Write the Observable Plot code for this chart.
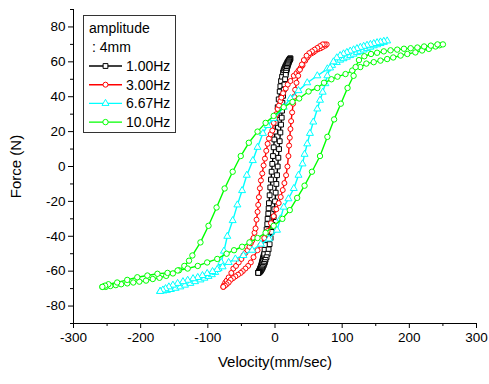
<!DOCTYPE html>
<html>
<head>
<meta charset="utf-8">
<script src="https://cdn.jsdelivr.net/npm/d3@7"></script>
<script src="https://cdn.jsdelivr.net/npm/@observablehq/plot@0.6"></script>
<style>
  html, body { margin: 0; padding: 0; background: #fff; }
  #chart { position: relative; width: 489px; height: 384px; font-family: "Liberation Sans", Arial, sans-serif; }
  #legend { position: absolute; left: 83px; top: 15px; }
</style>
</head>
<body>
<div id="chart"></div>
<script>
// Damper hysteresis loops: force vs. piston velocity at 4 mm amplitude
const series = ["1.00Hz", "3.00Hz", "6.67Hz", "10.0Hz"];
const colors = ["#000000", "#ff0000", "#00ffff", "#00ff00"];
const symbols = ["square", "circle", "triangle", "circle"];
const legendTitle = ["amplitude", ": 4mm"];
const xTicks = [-300, -200, -100, 0, 100, 200, 300];
const xMinor = [-250, -150, -50, 50, 150, 250];
const yTicks = [-80, -60, -40, -20, 0, 20, 40, 60, 80];
const yMinor = [-90, -70, -50, -30, -10, 10, 30, 50, 70, 90];

// 1.00 Hz (mm/sec, N): rising branch, then falling branch
const vel1 = [-25,-24.8,-24.5,-24.2,-23.8,-23.4,-23,-22.5,-22,-21.5,-21,-20.5,-20,-19.5,-19,-18.5,-18,-17.5,-17,-16.5,-16,-15.5,-14.5,-14,-13,-12.5,-11.5,-11,-10,-9.5,-9,-8,-7,-6,-5,-4,-3,-2,-1,0,1,2.5,4,5.5,7,8,9,10.5,12,13,14,15,16,17,18,19,20,21,21.7,22.3,23,
  22.7,22.3,22,21.5,21,20.5,20,19.5,19,18.5,18,17.5,17,16.5,16,15,14,13,12,11,10.5,10,9,8,7,6,5,4,3,2,1,0,-1,-2,-3.5,-5,-6.5,-8,-9.5,-11,-12.5,-14,-15,-16,-17,-18,-19,-20,-21,-22,-23,-23.7,-24.3,-25];
const frc1 = [-61,-60.9,-60.7,-60.5,-60.2,-59.9,-59.5,-59,-58.5,-58,-57.5,-56.8,-56,-55.3,-54.5,-53.7,-53,-52.2,-51.4,-50.7,-50,-47.5,-45,-42,-39,-36,-33,-30,-27,-24,-21,-16.5,-12,-7.5,-3,1.5,6,11,15.5,20,25,29.5,34,38.5,43,46,49,51.5,54,55.2,56.2,57,57.8,58.6,59.3,60,60.6,61.1,61.5,61.8,62,
  61.8,61.5,61.2,60.8,60.3,59.8,59.2,58.6,58,57.3,56.5,55.7,54.8,53.8,52.5,50,47,44,40.5,36.5,32,28,24,19.5,14.5,10,5,0,-5,-10,-15,-20,-24.5,-29,-33.5,-37.5,-41,-44.5,-47.5,-50,-52,-53.5,-54.8,-55.8,-56.8,-57.6,-58.4,-59.1,-59.7,-60.2,-60.5,-60.7,-60.9,-61];

// 3.00 Hz
const vel3 = [-77,-76,-74,-72,-69,-65,-62,-58,-54,-50,-47,-44,-41,-38,-36,-34,-32,-30.5,-29,-27.5,-26,-25,-24,-22.5,-21,-19,-17,-15,-13,-11,-9,-6.5,-4,-2,0,2,4,6,8,9.5,12,16,19,23,28,32,35,38,41,45,48,50,54,57,60,64,68,71,75,77,
  74,71,67,63,59,55,51,47,43,40,37,34.5,32,30,28.5,27,25.5,24,23,22,21,20,18.5,16.5,14,11.5,8.5,5.5,2,-2,-6,-11,-16,-21.5,-26,-32,-36,-40,-44,-48,-51,-55,-59,-62.5,-66,-69,-72,-74.5,-77];
const frc3 = [-69,-68,-66.5,-65.5,-63.6,-61,-58.5,-57,-55,-53,-51,-49.5,-48,-46,-44,-42.5,-41,-38,-35.5,-30.5,-26,-22,-17.6,-12.5,-8,-4,0.6,4.5,9,13,16,18.5,20.6,25,27.5,30,33,35,37.5,39.5,42,44.7,47,49,52,53.5,55,56.5,58,60.7,62.5,63.6,64.8,65.4,66.3,67.2,67.8,68.5,69.3,70,
  70,70,69,68,67,66,65,63.5,61,58.5,55.5,52,48,44,40,36,31,26,21.5,16.5,12,6,0,-5,-9.5,-13.5,-17.5,-21,-24.5,-28.5,-32.5,-37,-41,-45,-48,-52,-55,-57,-58.5,-60,-61,-62,-63,-64,-65,-66.5,-67.5,-68.3,-69];

// 6.67 Hz
const vel667 = [-171,-166,-161,-155,-148,-141,-134,-126,-119,-111,-105,-99,-94,-89,-84,-80,-76,-71,-63,-56,-49,-42,-33,-26,-18,-11,-2,13,23,35,48,63,78,85,92,97,102,107,112,117,122,127,132,137,142,147,152,157,162,167,
  162,157,152,147,142,137,132,127,122,117,112,107,102,97,92,87,82,78,75,71,67,63,57,52,48,44,41,35,28,20,13,8,3,-9,-21,-34,-47,-59,-69,-78,-86,-93,-101,-108,-115,-122,-130,-137,-145,-152,-158,-163,-167,-171];
const frc667 = [-71.6,-71.3,-71,-70.5,-69.8,-69,-68,-67,-66,-65,-64,-63,-62,-60.7,-58.5,-55,-48.5,-40,-31,-22,-13.8,-5,3.4,11,19,23.5,27.5,34,39,43.5,48,52,56,58,59.6,61,61.8,62.7,63.6,64.4,65.3,66,66.8,67.6,68.4,69.2,69.8,70.5,71.2,72,
  71.8,71.4,71,70.5,70,69.5,68.9,68.3,67.6,66.9,66.2,65.4,64.6,63.6,62.3,60,56.5,52,47.5,42.6,38,33,25.5,19,13,7,1.5,-5,-12.6,-18.5,-23.3,-30,-36.5,-41.5,-44.5,-48,-51,-53,-55,-57.5,-59,-60.2,-61.3,-62.5,-63.6,-64.3,-65.2,-66,-67,-68,-69,-70,-70.8,-71.6];

// 10.0 Hz
const vel10 = [-257,-252,-245,-237,-229,-220,-211,-202,-192,-182,-172,-162,-152,-143,-135,-128,-123,-111,-99,-87,-75,-63,-51,-39,-26,-14,-2,13,26,36,50,63,73,84,93,105,115,127,136,147,157,167,176,187,197,209,219,229,239,245,250,
  242,232,222,212,202,192,182,172,162,152,143,133,125,120,117,108,98,88,78,67,55,44,33,22,11,-2,-14,-26,-38,-49,-61,-72,-86,-101,-115,-130,-145,-160,-175,-190,-205,-220,-235,-248,-253,-257];
const frc10 = [-69,-69,-68.5,-68,-67.5,-67,-66.5,-66,-65.4,-64.5,-63.8,-62.7,-61.3,-59.5,-57,-54,-51,-43.5,-34,-23.5,-12.6,-3,6,13.6,20,25,29,34,37,39,43,45,48,50,51.5,53,55,57,59,59.8,60.7,61.6,62.5,63.6,64.5,65.4,66.5,67.4,68.8,69.5,70,
  70,69.3,68.8,68.2,67.8,67.5,67,66.6,66,65.2,64.5,63.2,61,57,52,45,36,27,17,6,-3,-11,-18,-25,-30,-34,-38,-41,-43.5,-46,-48,-50,-53,-55,-57,-58.5,-59.6,-61,-61.5,-62.5,-63.5,-65,-66.5,-67.5,-68.3,-69];

const loops = [[vel1, frc1], [vel3, frc3], [vel667, frc667], [vel10, frc10]];
const tables = loops.map(([v, f], k) => v.map((x, i) => ({series: series[k], v: x, f: f[i]})));
const dotR = [2.7, 2.5, 2.6, 2.7];

const seriesMarks = tables.flatMap((rows, k) => [
  Plot.line(rows, {x: "v", y: "f", stroke: colors[k], strokeWidth: 1.4, curve: "linear"}),
  Plot.dot(rows, {x: "v", y: "f", symbol: symbols[k], stroke: colors[k], fill: "white", strokeWidth: 1, r: dotR[k]})
]);

const chart = Plot.plot({
  width: 489,
  height: 384,
  marginLeft: 73,
  marginRight: 13,
  marginTop: 9,
  marginBottom: 61,
  style: {fontFamily: "'Liberation Sans', Arial, sans-serif", fontSize: "13.5px", background: "white", color: "black"},
  x: {domain: [-300, 300]},
  y: {domain: [-90, 90]},
  marks: [
    Plot.axisX({ticks: xTicks, tickSize: 5, tickPadding: 4, label: null, tickFormat: d => String(d)}),
    Plot.axisX({ticks: xMinor, tickSize: 3, label: null, tickFormat: () => ""}),
    Plot.axisY({ticks: yTicks, tickSize: 5, tickPadding: 3, label: null, tickFormat: d => String(d)}),
    Plot.axisY({ticks: yMinor, tickSize: 3, label: null, tickFormat: () => ""}),
    Plot.ruleX([-300], {stroke: "black"}),
    Plot.ruleY([-90], {stroke: "black"}),
    ...seriesMarks,
    Plot.text(["Velocity(mm/sec)"], {frameAnchor: "bottom", dy: 43, fontSize: 15, textAnchor: "middle"}),
    Plot.text(["Force (N)"], {frameAnchor: "left", dx: -57, rotate: -90, fontSize: 15, textAnchor: "middle"})
  ]
});

const root = document.getElementById("chart");
root.appendChild(chart);

// Legend box
const lw = 93, lh = 118;
const leg = d3.create("svg").attr("id", "legend").attr("width", lw).attr("height", lh)
  .style("font-family", "'Liberation Sans', Arial, sans-serif").style("font-size", "14px");
leg.append("rect").attr("x", 0.5).attr("y", 0.5).attr("width", lw - 1).attr("height", lh - 1)
  .attr("fill", "white").attr("stroke", "#333").attr("stroke-width", 1);
leg.append("text").attr("x", 6).attr("y", 13).attr("dy", "0.35em").text(legendTitle[0]);
leg.append("text").attr("x", 9).attr("y", 32).attr("dy", "0.35em").text(legendTitle[1]);
const symMap = {square: d3.symbolSquare, circle: d3.symbolCircle, triangle: d3.symbolTriangle};
series.forEach((name, k) => {
  const y = 51 + k * 18.7;
  leg.append("line").attr("x1", 6).attr("x2", 39).attr("y1", y).attr("y2", y)
    .attr("stroke", colors[k]).attr("stroke-width", 1.4);
  leg.append("path").attr("transform", `translate(22.5,${y})`)
    .attr("d", d3.symbol(symMap[symbols[k]], Math.PI * dotR[k] * dotR[k])())
    .attr("fill", "white").attr("stroke", colors[k]).attr("stroke-width", 1);
  leg.append("text").attr("x", 43).attr("y", y).attr("dy", "0.35em").text(name);
});
root.appendChild(leg.node());
</script>
</body>
</html>
